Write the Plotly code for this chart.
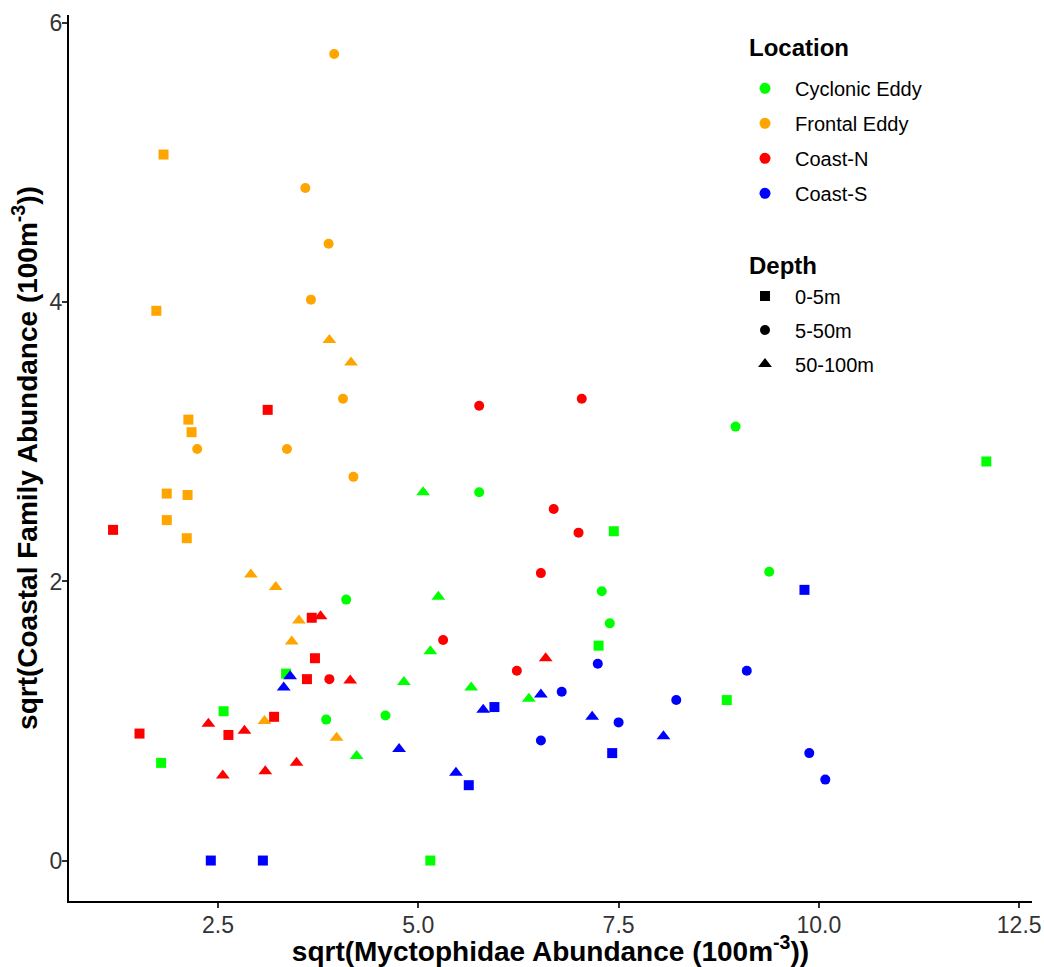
import plotly.graph_objects as go

# ---------------- data ----------------
locations = ["Cyclonic Eddy", "Frontal Eddy", "Coast-N", "Coast-S"]
location_colors = ["#00FF00", "#FFA500", "#FF0000", "#0000FF"]
depths = ["0-5m", "5-50m", "50-100m"]
depth_symbols = ["square", "circle", "triangle-up"]

# Cyclonic Eddy
cyclonic_x = [7.44, 12.09, 7.25, 3.35, 2.57, 1.79, 5.15, 8.85,
              8.96, 5.76, 9.38, 4.10, 7.29, 7.39, 3.85, 4.59,
              5.06, 5.25, 5.15, 4.82, 5.66, 6.38, 4.23]
cyclonic_y = [2.36, 2.86, 1.54, 1.34, 1.07, 0.70, 0.00, 1.15,
              3.11, 2.64, 2.07, 1.87, 1.93, 1.70, 1.01, 1.04,
              2.64, 1.89, 1.50, 1.28, 1.24, 1.16, 0.75]
cyclonic_depth = ["0-5m"] * 8 + ["5-50m"] * 8 + ["50-100m"] * 7

# Frontal Eddy
frontal_x = [1.82, 1.73, 2.13, 2.17, 1.86, 2.12, 1.86, 2.11,
             3.95, 3.59, 3.88, 3.66, 4.06, 2.24, 3.36, 4.19,
             3.89, 4.16, 2.91, 3.22, 3.51, 3.42, 3.08, 3.98]
frontal_y = [5.06, 3.94, 3.16, 3.07, 2.63, 2.62, 2.44, 2.31,
             5.78, 4.82, 4.42, 4.02, 3.31, 2.95, 2.95, 2.75,
             3.73, 3.57, 2.05, 1.96, 1.72, 1.57, 1.00, 0.88]
frontal_depth = ["0-5m"] * 8 + ["5-50m"] * 8 + ["50-100m"] * 8

# Coast-N
coastn_x = [3.12, 1.19, 3.67, 3.71, 3.61, 3.20, 1.52, 2.63,
            5.76, 7.04, 6.69, 7.00, 6.53, 5.31, 6.23, 3.89,
            3.78, 4.15, 6.59, 2.38, 2.83, 3.48, 2.56, 3.09]
coastn_y = [3.23, 2.37, 1.74, 1.45, 1.30, 1.03, 0.91, 0.90,
            3.26, 3.31, 2.52, 2.35, 2.06, 1.58, 1.36, 1.30,
            1.75, 1.29, 1.45, 0.98, 0.93, 0.70, 0.61, 0.64]
coastn_depth = ["0-5m"] * 8 + ["5-50m"] * 8 + ["50-100m"] * 8

# Coast-S
coasts_x = [2.41, 3.06, 5.95, 7.42, 5.63, 9.82,
            7.24, 6.79, 7.50, 6.53, 9.10, 8.22, 9.88, 10.08,
            3.40, 3.32, 6.53, 5.81, 7.17, 4.76, 5.47, 8.06]
coasts_y = [0.00, 0.00, 1.10, 0.77, 0.54, 1.94,
            1.41, 1.21, 0.99, 0.86, 1.36, 1.15, 0.77, 0.58,
            1.32, 1.24, 1.19, 1.08, 1.03, 0.80, 0.63, 0.89]
coasts_depth = ["0-5m"] * 6 + ["5-50m"] * 8 + ["50-100m"] * 8

x_tickvals = [2.5, 5.0, 7.5, 10.0, 12.5]
x_ticktext = ["2.5", "5.0", "7.5", "10.0", "12.5"]
y_tickvals = [0, 2, 4, 6]
y_ticktext = ["0", "2", "4", "6"]

series = [
    (cyclonic_x, cyclonic_y, cyclonic_depth),
    (frontal_x, frontal_y, frontal_depth),
    (coastn_x, coastn_y, coastn_depth),
    (coasts_x, coasts_y, coasts_depth),
]

FONT = "Liberation Sans, Arial, sans-serif"
sym_size = {"square": 10, "circle": 10, "triangle-up": 12}

fig = go.Figure()

# data points
for loc, col, (xs, ys, ds) in zip(locations, location_colors, series):
    for dep, sym in zip(depths, depth_symbols):
        px = [x for x, d in zip(xs, ds) if d == dep]
        py = [y for y, d in zip(ys, ds) if d == dep]
        fig.add_trace(go.Scatter(
            x=px, y=py, mode="markers",
            marker=dict(color=col, symbol=sym, size=sym_size[sym], line=dict(width=0)),
            name=f"{loc} {dep}", showlegend=False, hoverinfo="x+y",
        ))

# legend entries: Location
for loc, col in zip(locations, location_colors):
    fig.add_trace(go.Scatter(
        x=[None], y=[None], mode="markers",
        marker=dict(color=col, symbol="circle", size=11),
        name=loc, legend="legend", legendgroup="loc_" + loc, showlegend=True,
    ))

# legend entries: Depth
for dep, sym in zip(depths, depth_symbols):
    fig.add_trace(go.Scatter(
        x=[None], y=[None], mode="markers",
        marker=dict(color="black", symbol=sym, size=sym_size[sym]),
        name=dep, legend="legend2", legendgroup="dep_" + dep, showlegend=True,
    ))

axis_common = dict(
    showline=True, linecolor="black", linewidth=2, mirror=False,
    showgrid=False, zeroline=False,
    ticks="outside", ticklen=5, tickwidth=1.5, tickcolor="#333333",
    tickfont=dict(family=FONT, size=23, color="#333333"),
)

fig.update_layout(
    width=1044, height=967,
    paper_bgcolor="white", plot_bgcolor="white",
    margin=dict(l=69, r=12, t=15, b=66, autoexpand=False),
    xaxis=dict(
        range=[0.64, 12.66], tickvals=x_tickvals, ticktext=x_ticktext,
        ticklabelstandoff=-3,
        title=dict(text="<b>sqrt(Myctophidae Abundance (100m<sup>-3</sup>))</b>",
                   font=dict(family=FONT, size=28, color="black"), standoff=2),
        **axis_common,
    ),
    yaxis=dict(
        range=[-0.29, 6.06], tickvals=y_tickvals, ticktext=y_ticktext,
        ticklabelstandoff=-5,
        title=dict(text="<b>sqrt(Coastal Family Abundance (100m<sup>-3</sup>))</b>",
                   font=dict(family=FONT, size=28, color="black"), standoff=4),
        **axis_common,
    ),
    legend=dict(
        font=dict(family=FONT, size=20, color="black"),
        x=0.6916, y=0.9393, xanchor="left", yanchor="top",
        itemwidth=50, tracegroupgap=6, bgcolor="rgba(0,0,0,0)", borderwidth=0,
        itemclick=False, itemdoubleclick=False,
    ),
    legend2=dict(
        font=dict(family=FONT, size=20, color="black"),
        x=0.6916, y=0.7049, xanchor="left", yanchor="top",
        itemwidth=50, tracegroupgap=5, bgcolor="rgba(0,0,0,0)", borderwidth=0,
        itemclick=False, itemdoubleclick=False,
    ),
    annotations=[
        dict(text="<b>Location</b>", xref="paper", yref="paper", x=0.704, y=0.9628,
             xanchor="left", yanchor="middle", showarrow=False,
             font=dict(family=FONT, size=24, color="black")),
        dict(text="<b>Depth</b>", xref="paper", yref="paper", x=0.704, y=0.7173,
             xanchor="left", yanchor="middle", showarrow=False,
             font=dict(family=FONT, size=24, color="black")),
    ],
)

fig.write_html("out.html")
